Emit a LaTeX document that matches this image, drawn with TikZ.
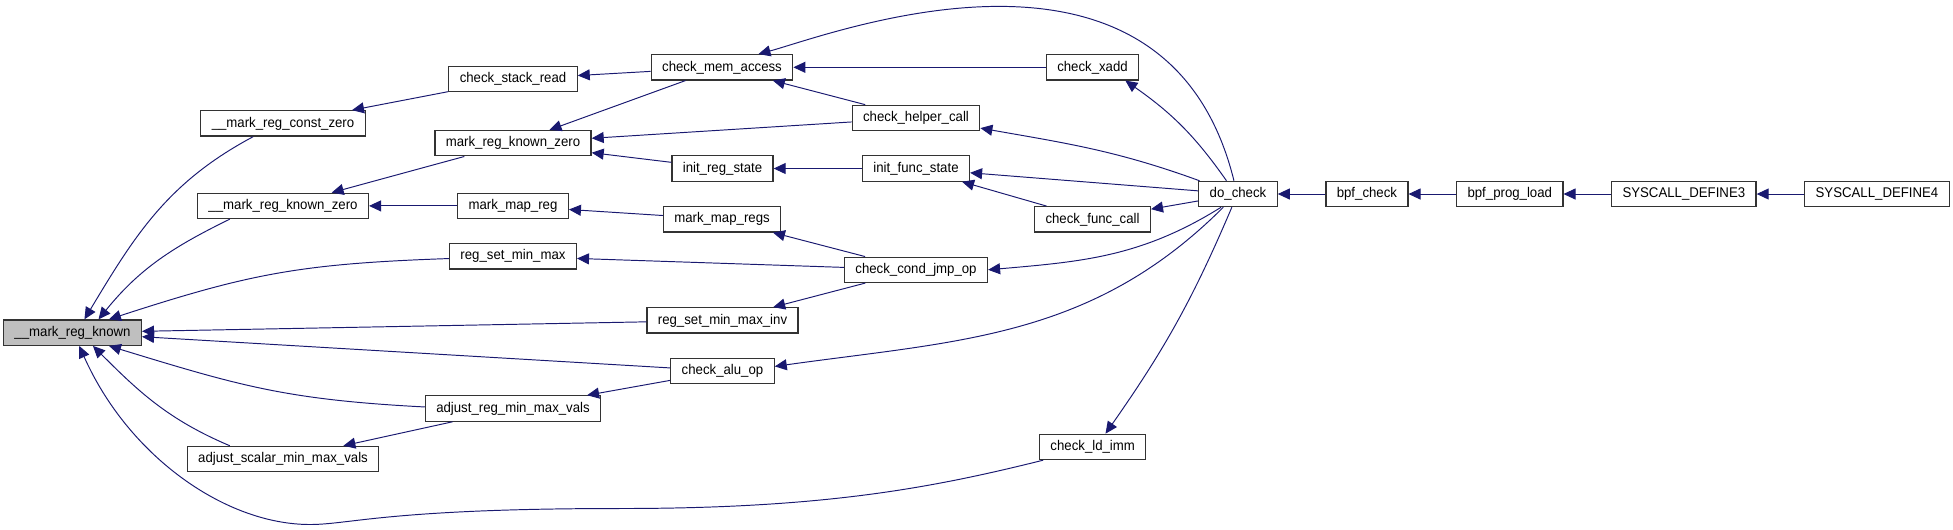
\documentclass[tikz,border=0pt]{standalone}
\usepackage{fontspec}
\newfontfamily\dxfont[FakeStretch=0.94]{Liberation Sans}
\usepackage{xcolor}
\usepackage{tikz}
\usetikzlibrary{arrows.meta,positioning}
\definecolor{edgeblue}{HTML}{191970}
\definecolor{curgray}{HTML}{BFBFBF}

\begin{document}
\begin{tikzpicture}[
  x=0.02cm, y=-0.02cm,
  node distance=9.5mm,
  fn/.style={draw=black!80, line width=0.7pt, fill=white, font=\dxfont\fontsize{8}{9.6}\selectfont, minimum height=5.06mm, inner xsep=6.2pt, inner ysep=0pt},
  cur/.style={fn, fill=curgray},
  ar/.style={-{Triangle[length=2.4mm,width=2.2mm]}, draw=edgeblue, line width=0.55pt}]
  \useasboundingbox (0,0) rectangle (1953,529);
  \node[cur] (known) at (72.5,332.6) {\_\_mark\_reg\_known};
  \node[fn] (constzero) at (283,123.4) {\_\_mark\_reg\_const\_zero};
  \node[fn] (knownzero) at (283,205.9) {\_\_mark\_reg\_known\_zero};
  \node[fn] (adjscalar) at (283,459) {adjust\_scalar\_min\_max\_vals};
  \node[fn] (stackread) at (513,79.2) {check\_stack\_read};
  \node[fn] (regknownzero) at (513,143.2) {mark\_reg\_known\_zero};
  \node[fn] (mapreg) at (513,205.9) {mark\_map\_reg};
  \node[fn] (setminmax) at (513,256.3) {reg\_set\_min\_max};
  \node[fn] (adjreg) at (513,408.5) {adjust\_reg\_min\_max\_vals};
  \node[fn] (memaccess) at (722,67.3) {check\_mem\_access};
  \node[fn] (initreg) at (722.5,168.5) {init\_reg\_state};
  \node[fn] (mapregs) at (722,219.3) {mark\_map\_regs};
  \node[fn] (setinv) at (722.5,320.4) {reg\_set\_min\_max\_inv};
  \node[fn] (aluop) at (722.5,371) {check\_alu\_op};
  \node[fn] (helper) at (916,117.9) {check\_helper\_call};
  \node[fn] (initfunc) at (916,168.5) {init\_func\_state};
  \node[fn] (condjmp) at (916,269.8) {check\_cond\_jmp\_op};
  \node[fn] (xadd) at (1092.5,67.3) {check\_xadd};
  \node[fn] (funccall) at (1092.5,219.3) {check\_func\_call};
  \node[fn] (ldimm) at (1092.7,446.9) {check\_ld\_imm};
  \node[fn] (docheck) at (1238,194) {do\_check};
  \node[fn, right=of docheck] (bpfcheck) {bpf\_check};
  \node[fn, right=of bpfcheck] (progload) {bpf\_prog\_load};
  \node[fn, right=of progload] (sysdef3) {SYSCALL\_DEFINE3};
  \node[fn, right=of sysdef3] (sysdef4) {SYSCALL\_DEFINE4};
  \coordinate (ldmid) at (620,508.5);
  \coordinate (ldlow) at (310,524.5);
  \draw[ar] (constzero.204) to[out=208,in=59] (known.48);
  \draw[ar] (knownzero.194) to[out=206,in=51] (known.27);
  \draw[ar] (setminmax.182) to[out=182,in=18,looseness=1.1] (known.20);
  \draw[ar] (setinv) -- (known);
  \draw[ar] (aluop) -- (known);
  \draw[ar] (adjreg.179) to[out=177,in=-17,looseness=1.1] (known.-20);
  \draw[ar] (adjscalar.166) to[out=157,in=-45] (known.-33);
  \draw[ar] (ldimm.195) .. controls +(-116,29) and +(200,0) .. (ldmid) .. controls +(-230,0) and +(40,0) .. (ldlow) .. controls +(-85,0) and +(49,110) .. (known.-63);
  \draw[ar] (stackread) -- (constzero);
  \draw[ar] (memaccess) -- (stackread);
  \draw[ar] (memaccess) -- (regknownzero);
  \draw[ar] (regknownzero) -- (knownzero);
  \draw[ar] (mapreg) -- (knownzero);
  \draw[ar] (helper) -- (regknownzero);
  \draw[ar] (initreg) -- (regknownzero);
  \draw[ar] (mapregs) -- (mapreg);
  \draw[ar] (condjmp) -- (setminmax);
  \draw[ar] (condjmp) -- (mapregs);
  \draw[ar] (condjmp) -- (setinv);
  \draw[ar] (aluop) -- (adjreg);
  \draw[ar] (adjreg) -- (adjscalar);
  \draw[ar] (helper) -- (memaccess);
  \draw[ar] (xadd) -- (memaccess);
  \draw[ar] (initfunc) -- (initreg);
  \draw[ar] (funccall) -- (initfunc);
  \draw[ar] (docheck.107) .. controls +(-68,-276) and +(71,-19) .. (memaccess.20);
  \draw[ar] (docheck.131) to[out=125,in=-35] (xadd.-22);
  \draw[ar] (docheck.161) to[out=160,in=-10] (helper.-9);
  \draw[ar] (docheck) -- (initfunc);
  \draw[ar] (docheck) -- (funccall);
  \draw[ar] (docheck.-142) to[out=212,in=5] (condjmp.east);
  \draw[ar] (docheck.-138) to[out=225,in=8] (aluop.5);
  \draw[ar] (docheck.-115) to[out=247,in=55] (ldimm.46);
  \draw[ar] (bpfcheck) -- (docheck);
  \draw[ar] (progload) -- (bpfcheck);
  \draw[ar] (sysdef3) -- (progload);
  \draw[ar] (sysdef4) -- (sysdef3);
\end{tikzpicture}
\end{document}
